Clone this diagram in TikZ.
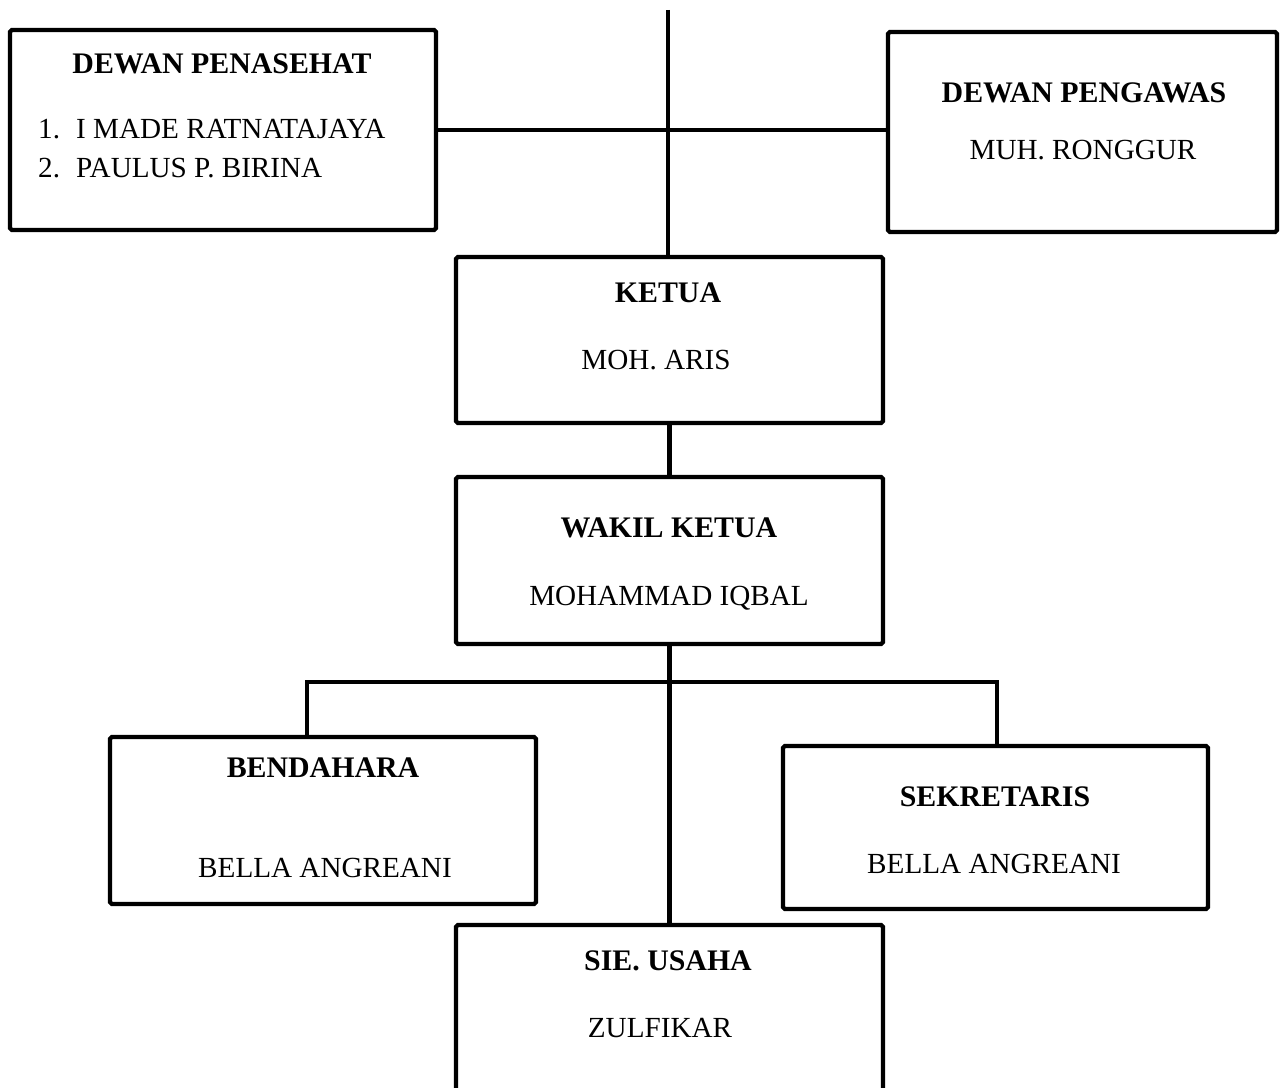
\documentclass[tikz,border=0pt]{standalone}
\usepackage{fontspec}
\setmainfont{Liberation Serif}
\usetikzlibrary{positioning}

\begin{document}
\begin{tikzpicture}[x=0.02cm, y=-0.02cm,
  every node/.style={font=\fontsize{16.6}{20}\selectfont},
  box/.style={draw, line width=2.4pt, rounded corners=1pt, inner sep=0pt},
  title/.style={font=\fontsize{17}{20}\selectfont\bfseries, anchor=base},
  person/.style={anchor=base},
  link/.style={line width=2.4pt}]
  \useasboundingbox (0,0) rectangle (1284,1088);
  \clip (0,0) rectangle (1284,1088);
  % boxes
  \node[box, minimum width=8.52cm, minimum height=4.0cm] (penasehat) at (223,130) {};
  \node[box, minimum width=7.78cm, minimum height=4.0cm] (pengawas) at (1082.5,132) {};
  \node[box, minimum width=8.54cm, minimum height=3.32cm] (ketua) at (669.5,340) {};
  \node[box, minimum width=8.54cm, minimum height=3.34cm] (wakil) at (669.5,560.5) {};
  \node[box, minimum width=8.52cm, minimum height=3.34cm] (bendahara) at (323,820.5) {};
  \node[box, minimum width=8.50cm, minimum height=3.26cm] (sekretaris) at (995.5,827.5) {};
  \node[box, minimum width=8.54cm, minimum height=3.70cm] (usaha) at (669.5,1017.5) {};
  % texts
  \node[title] (tPenasehat) at (222,73) {DEWAN PENASEHAT};
  \node[anchor=base west] (nPenasehatA) at (32,138) {\makebox[0.76cm][l]{1.}I MADE RATNATAJAYA};
  \node[anchor=base west] (nPenasehatB) at (32,177) {\makebox[0.76cm][l]{2.}PAULUS P. BIRINA};
  \node[title] (tPengawas) at (1084,103) {DEWAN PENGAWAS};
  \node[person] (nPengawas) at (1083,159) {MUH. RONGGUR};
  \node[title] (tKetua) at (668,302) {KETUA};
  \node[person] (nKetua) at (656,369) {MOH. ARIS};
  \node[title] (tWakil) at (669,537) {WAKIL KETUA};
  \node[person] (nWakil) at (669,605) {MOHAMMAD IQBAL};
  \node[title] (tBendahara) at (323,777) {BENDAHARA};
  \node[person] (nBendahara) at (325,877) {BELLA ANGREANI};
  \node[title] (tSekretaris) at (995,806) {SEKRETARIS};
  \node[person] (nSekretaris) at (994,873) {BELLA ANGREANI};
  \node[title] (tUsaha) at (668,970) {SIE. USAHA};
  \node[person] (nUsaha) at (660,1037) {ZULFIKAR};
  % connectors
  \coordinate (top) at (668,10);
  \coordinate (bl) at (307,682);
  \coordinate (br) at (997,682);
  \draw[link] (top) -- (top |- ketua.north);
  \draw[link] (penasehat.east) -- (penasehat.east -| pengawas.west);
  \draw[link] (ketua.south) -- (wakil.north);
  \draw[link] (wakil.south) -- (usaha.north);
  \draw[link] (bl |- bendahara.north) -- (bl) -- (br) -- (br |- sekretaris.north);
\end{tikzpicture}
\end{document}
